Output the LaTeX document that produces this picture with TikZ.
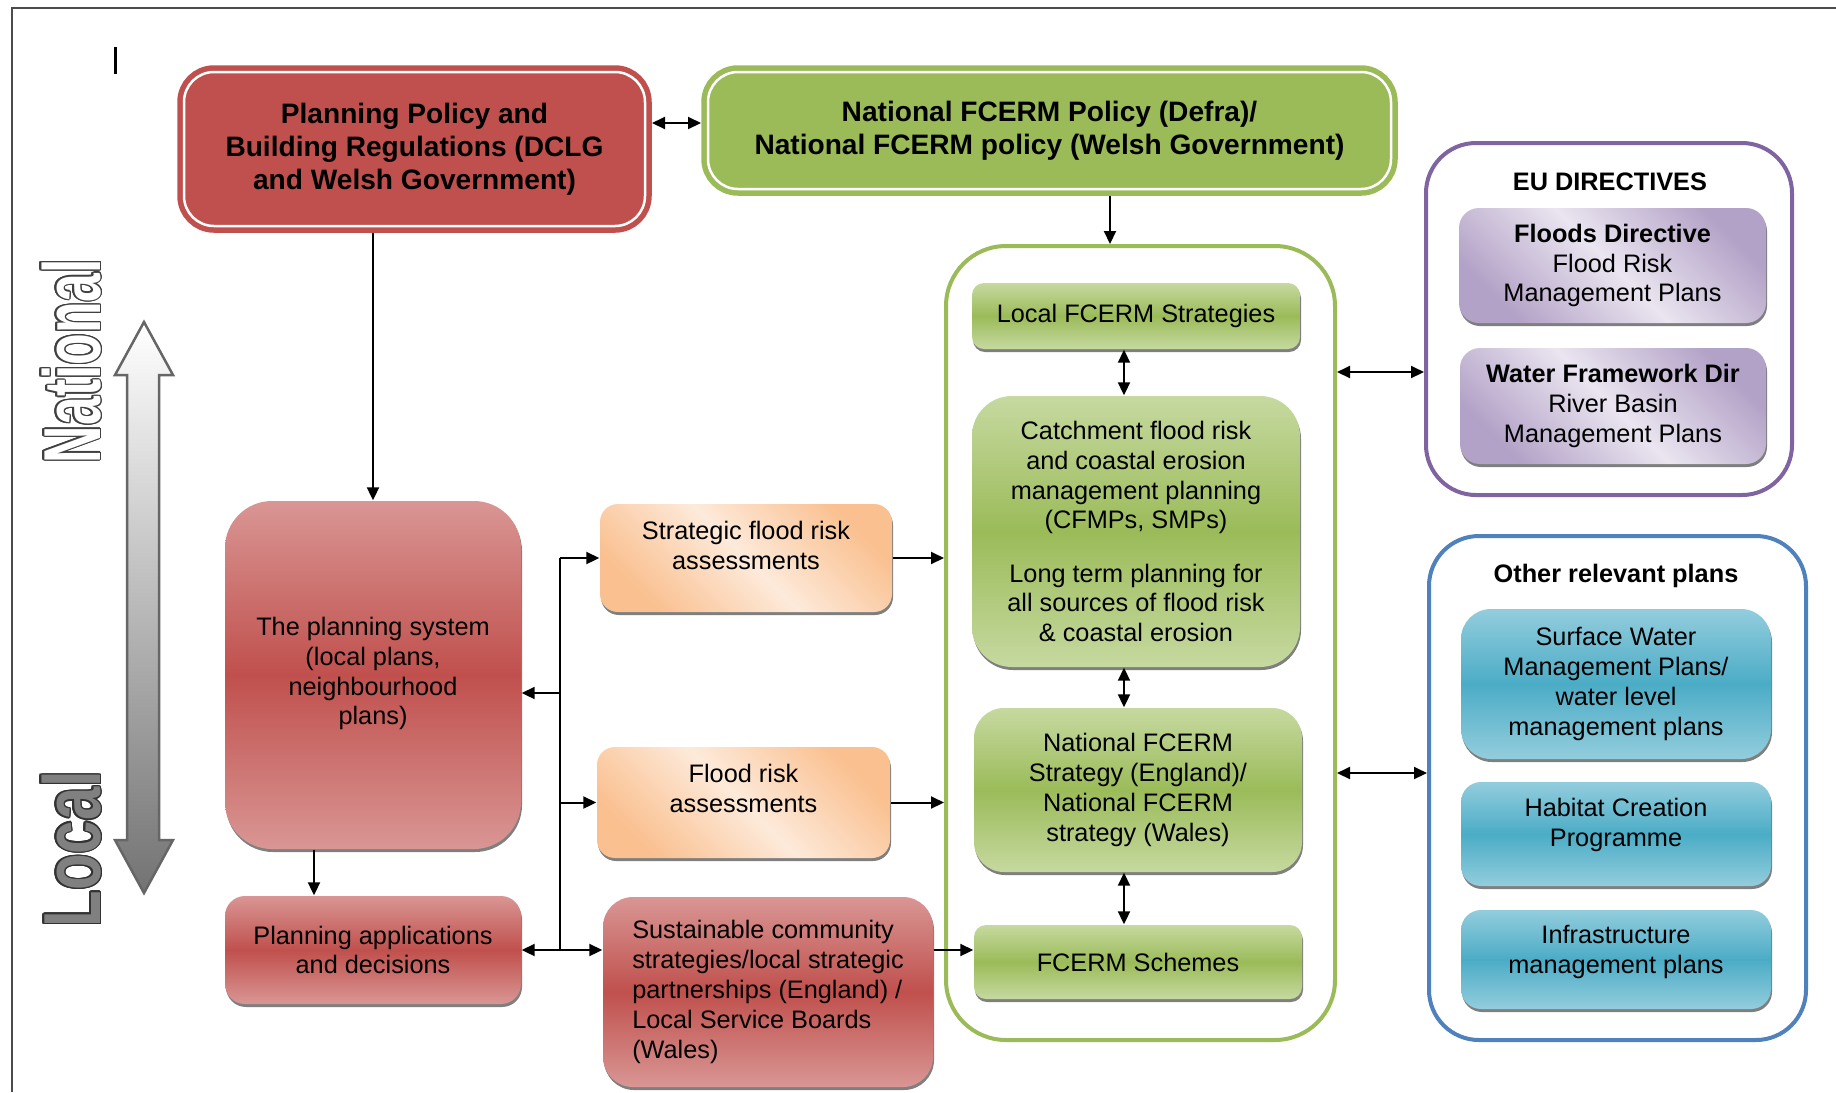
\documentclass[tikz,border=0pt]{standalone}
\usepackage{fontspec}
\setmainfont{Liberation Sans}
\usepackage{contour}
\usetikzlibrary{shadows,arrows.meta,calc}

\definecolor{polred}{HTML}{C0504D}
\definecolor{polredlt}{HTML}{D99694}
\definecolor{fcgreen}{HTML}{9BBB59}
\definecolor{fcgreenlt}{HTML}{C6D9A0}
\definecolor{eupurple}{HTML}{8064A2}
\definecolor{eulilac}{HTML}{B3A2C7}
\definecolor{eulilaclt}{HTML}{EAE5F0}
\definecolor{othblue}{HTML}{4F81BD}
\definecolor{othteal}{HTML}{4BACC6}
\definecolor{othteallt}{HTML}{93CDDD}
\definecolor{fraorange}{HTML}{FAC090}
\definecolor{fraorangelt}{HTML}{FDEADA}

% pushes the text of a box up by adding depth below its last line
\newcommand\textlift[1]{\rule[-#1]{0pt}{0pt}}

\tikzset{
  plainbox/.style={align=center, inner sep=0pt, font=\fontsize{7.2}{8.5}\selectfont},
  boxshadow/.style={drop shadow={shadow xshift=0.1mm, shadow yshift=-0.3mm, opacity=0.5, fill=black}},
  policybox/.style={plainbox, rounded corners=3mm, draw=#1, fill=#1, double=white,
    double distance=0.25mm, line width=0.55mm, outer sep=0.7mm,
    font=\bfseries\fontsize{8}{9.4}\selectfont},
  frame/.style={draw=#1, line width=0.4mm, fill=white, inner sep=0pt},
  greenbox/.style={plainbox, top color=fcgreenlt, bottom color=fcgreenlt, middle color=fcgreen, boxshadow},
  redbox/.style={plainbox, top color=polredlt, bottom color=polredlt, middle color=polred, boxshadow},
  tealbox/.style={plainbox, top color=othteallt, bottom color=othteallt, middle color=othteal, boxshadow},
  lilacbox/.style={plainbox, top color=eulilac, bottom color=eulilac, middle color=eulilaclt,
    shading angle=-45, boxshadow},
  orangebox/.style={plainbox, top color=fraorange, bottom color=fraorange, middle color=fraorangelt,
    shading angle=-45, boxshadow},
  link/.style={draw, line width=0.2mm}
}

\begin{document}
\begin{tikzpicture}[x=0.1mm, y=-0.1mm, >={Triangle[length=1.3mm, width=1.2mm]}]

    \useasboundingbox (0,0) rectangle (1836,1092);

    % page frame and cursor mark
    \draw[black!70, line width=0.2mm] (12,1092) -- (12,8) -- (1836,8);
    \draw[line width=0.3mm] (115,47) -- (115,74);

    % National / Local scale
    \shadedraw[top color=white, bottom color=black!55, draw=black!60, line width=0.25mm]
        (144,322) -- (173,375) -- (159,375) -- (159,840) -- (173,840) -- (144,893)
        -- (115,840) -- (127,840) -- (127,375) -- (115,375) -- cycle;
    \contourlength{0.5pt}
    \node[rotate=90, inner sep=0pt] (natl) at (72,361)
        {\scalebox{0.64}[1]{\fontsize{23}{23}\selectfont\bfseries\color{white}\contour{black!75}{National}}};
    \node[rotate=90, inner sep=0pt] (locl) at (72,849)
        {\scalebox{0.74}[1]{\fontsize{23}{23}\selectfont\bfseries\color{black!50}\contour{black!80}{Local}}};

    % containers
    \node[frame=fcgreen, rounded corners=6mm, minimum width=38.9mm, minimum height=79.4mm] (fcont) at (1140.5,643) {};
    \node[frame=eupurple, rounded corners=5mm, minimum width=36.6mm, minimum height=35.2mm] (eucont) at (1609,319) {};
    \node[frame=othblue, rounded corners=5mm, minimum width=37.7mm, minimum height=50.4mm] (othcont) at (1617.5,788) {};
    \node[plainbox, font=\bfseries\fontsize{7.2}{8.5}\selectfont] (eutitle) at (1610,182) {EU DIRECTIVES};
    \node[plainbox, font=\bfseries\fontsize{7.2}{8.5}\selectfont] (othtitle) at (1616,576) {Other relevant plans};

    % national policy
    \node[policybox=polred, minimum width=46.1mm, minimum height=15.4mm] (ppolicy) at (414.5,149)
        {Planning Policy and\\Building Regulations (DCLG\\and Welsh Government)};
    \node[policybox=fcgreen, minimum width=68.3mm, minimum height=11.7mm] (npolicy) at (1049.5,130.5)
        {National FCERM Policy (Defra)/\\National FCERM policy (Welsh Government)};

    % FCERM column
    \node[greenbox, rounded corners=1.2mm, minimum width=32.8mm, minimum height=6.6mm] (lstrat) at (1136,316)
        {Local FCERM Strategies};
    \node[greenbox, rounded corners=4mm, minimum width=32.8mm, minimum height=27.1mm] (catch) at (1136,531.5)
        {Catchment flood risk\\and coastal erosion\\management planning\\(CFMPs, SMPs)\\[6.6pt]
         Long term planning for\\all sources of flood risk\\\& coastal erosion};
    \node[greenbox, rounded corners=3mm, minimum width=32.8mm, minimum height=16.4mm] (nstrat) at (1138,790)
        {National FCERM\\Strategy (England)/\\National FCERM\\strategy (Wales)};
    \node[greenbox, rounded corners=1.2mm, minimum width=32.8mm, minimum height=7.4mm] (schemes) at (1138,962)
        {FCERM Schemes};

    % EU directives
    \node[lilacbox, rounded corners=2mm, minimum width=30.7mm, minimum height=11.5mm] (floodsdir) at (1612.5,265.5)
        {\textbf{Floods Directive}\\Flood Risk\\Management Plans};
    \node[lilacbox, rounded corners=2mm, minimum width=30.6mm, minimum height=11.6mm] (wfd) at (1613,406)
        {\textbf{Water Framework Dir}\\River Basin\\Management Plans};

    % other plans
    \node[tealbox, rounded corners=3mm, minimum width=31mm, minimum height=15mm] (swmp) at (1616,684)
        {Surface Water\\Management Plans/\\water level\\management plans};
    \node[tealbox, rounded corners=2mm, minimum width=31mm, minimum height=10.4mm] (habitat) at (1616,834)
        {Habitat Creation\\Programme\textlift{2.4mm}};
    \node[tealbox, rounded corners=2mm, minimum width=31mm, minimum height=9.9mm] (infra) at (1616,959.5)
        {Infrastructure\\management plans\textlift{2.1mm}};

    % local planning
    \node[redbox, rounded corners=4.7mm, minimum width=29.6mm, minimum height=34.8mm] (psystem) at (373,675)
        {The planning system\\(local plans,\\neighbourhood\\plans)\textlift{0.8mm}};
    \node[redbox, rounded corners=2mm, minimum width=29.6mm, minimum height=10.8mm] (papps) at (373,950)
        {Planning applications\\and decisions};
    \node[redbox, rounded corners=3mm, minimum width=33mm, minimum height=19mm, align=left] (scs) at (768,992)
        {Sustainable community\\strategies/local strategic\\partnerships (England) /\\Local Service Boards\\(Wales)};
    \node[orangebox, rounded corners=1.8mm, minimum width=29.2mm, minimum height=10.8mm] (sfra) at (746,558)
        {Strategic flood risk\\assessments\textlift{2.6mm}};
    \node[orangebox, rounded corners=1.8mm, minimum width=29.3mm, minimum height=11.1mm] (fra) at (743.5,802.5)
        {Flood risk\\assessments\textlift{2.9mm}};

    % connectors
    \coordinate (spine) at (1124,0);
    \coordinate (bus) at (560,0);

    \draw[link,<->] (ppolicy.east |- 0,123) -- (npolicy.west |- 0,123);
    \draw[link,->] (npolicy.south -| 1110,0) -- (fcont.north -| 1110,0);
    \draw[link,->] (ppolicy.south -| psystem.north) -- (psystem.north);
    \draw[link,->] (psystem.south -| 314,0) -- (papps.north -| 314,0);

    \foreach \a/\b in {lstrat/catch, catch/nstrat, nstrat/schemes}
        \draw[link,<->] (\a.south -| spine) -- (\b.north -| spine);

    \draw[link,<->] (fcont.east |- 0,372) -- (eucont.west |- 0,372);
    \draw[link,<->] (fcont.east |- 0,773) -- (othcont.west |- 0,773);

    \draw[link] (bus |- sfra.west) -- (bus |- papps.east);
    \foreach \n in {sfra, fra} {
        \draw[link,->] (bus |- \n.west) -- (\n.west);
        \draw[link,->] (\n.east) -- (fcont.west |- \n.east);
    }
    \draw[link,->] (bus |- 0,693) -- (psystem.east |- 0,693);
    \draw[link,<->] (papps.east) -- (scs.west |- papps.east);
    \draw[link,->] (scs.east |- papps.east) -- (schemes.west |- papps.east);

\end{tikzpicture}
\end{document}
